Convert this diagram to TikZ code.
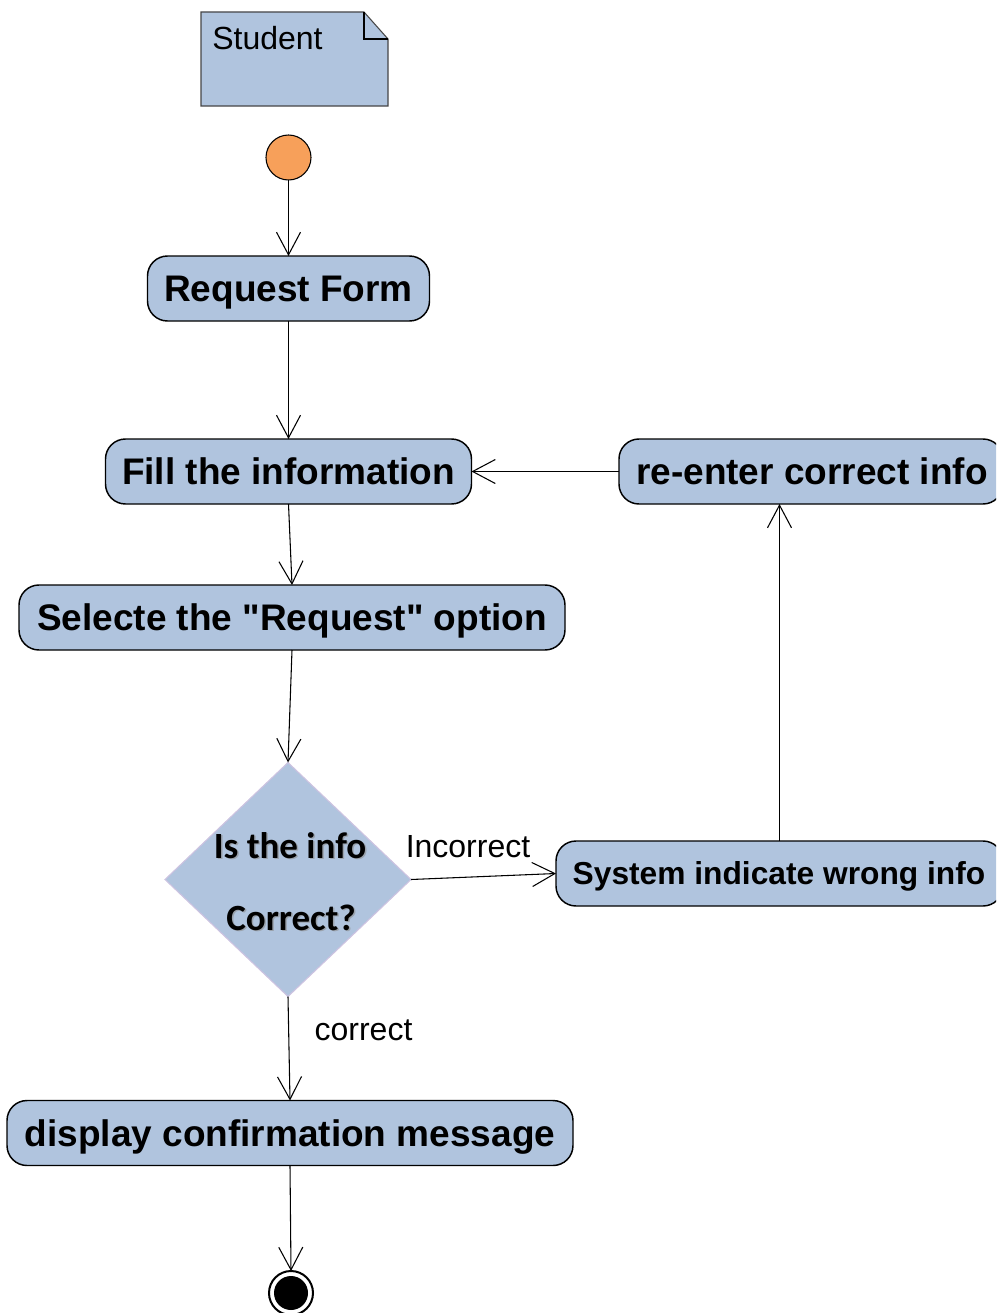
\documentclass[tikz,border=0pt]{standalone}
\usepackage{fontspec}
\setmainfont{Liberation Sans}
\newfontfamily\calfont{Carlito}
\usetikzlibrary{arrows.meta,shapes.geometric}
\definecolor{boxblue}{RGB}{176,196,222}
\definecolor{startorange}{RGB}{247,160,90}
\definecolor{diamondline}{RGB}{205,195,225}
\definecolor{notegray}{RGB}{70,70,70}
\tikzset{
  act/.style={draw=black, line width=1.1pt, fill=boxblue, rounded corners=15pt,
    inner sep=0pt, outer sep=0pt, minimum height=48.75pt,
    text height=20pt, text depth=0pt,
    font=\fontsize{27.75}{33}\selectfont\bfseries},
  acttext/.style={inner sep=0pt, text depth=0pt},
  flow/.style={line width=0.8pt, -{Straight Barb[length=17pt,width=18pt]}},
  lbl/.style={font=\fontsize{24}{28}\selectfont, inner sep=0pt},
  dectext/.style={font=\calfont\bfseries\fontsize{27.75}{33}\selectfont, inner sep=0pt, anchor=base},
}
\begin{document}
\begin{tikzpicture}[x=0.75pt,y=-0.75pt]
\useasboundingbox (0,0) rectangle (996,1313);
\clip (0,0) rectangle (996,1313);

% swimlane note
\draw[notegray, line width=0.8pt, fill=boxblue]
  (201,12) -- (364,12) -- (388,39) -- (388,106) -- (201,106) -- cycle;
\draw[black, line width=0.8pt] (364,12) -- (364,39) -- (388,39);
\node[lbl, anchor=base west] (student) at (212,50) {Student};

% start and end
\node[circle, draw=black, line width=0.8pt, fill=startorange, minimum size=33.75pt,
  inner sep=0pt, outer sep=0pt] (start) at (288.5,157.5) {};
\node[circle, draw=black, line width=1.5pt, fill=white, minimum size=33pt,
  inner sep=0pt, outer sep=0pt] (stop) at (291,1293) {};
\node[circle, fill=black, minimum size=25.5pt, inner sep=0pt] (stopdot) at (stop) {};

% activities
\node[act, minimum width=211.5pt] (req) at (288.5,288.5) {Request Form};
\node[act, minimum width=274.5pt] (fill) at (288.5,471.5) {Fill the information};
\node[act, minimum width=288pt] (reenter) at (811,471.5) {};
\node[acttext, text height=20pt, font=\fontsize{27.75}{33}\selectfont\bfseries] (reentertext) at (812,471.5) {re-enter correct info};
\node[act, minimum width=409.5pt] (sel) at (292,617.5) {Selecte the \textquotedbl Request\textquotedbl{} option};
\node[act, minimum width=335.25pt] (sys) at (779.5,873.5) {};
\node[acttext, text height=17pt, font=\fontsize{23.8}{28}\selectfont\bfseries] (systext) at (779,873.5) {System indicate wrong info};
\node[act, minimum width=424.5pt] (disp) at (290,1133) {display confirmation message};

% decision
\node[diamond, draw=diamondline, line width=0.8pt, fill=boxblue, minimum width=184.5pt,
  minimum height=175.5pt, inner sep=0pt, outer sep=0pt] (dec) at (288,879.5) {};
\node[dectext, text=black!45, opacity=0.6] (qshadowa) at (291.5,859.5) {Is the info};
\node[dectext, text=black!45, opacity=0.6] (qshadowb) at (292.5,931.5) {Correct?};
\node[dectext] (qa) at (290,858) {Is the info};
\node[dectext] (qb) at (291,930) {Correct?};

% flows
\draw[flow] (start) -- (req);
\draw[flow] (req) -- (fill);
\draw[flow] (fill.south) -- (sel.north);
\draw[flow] (sel.south) -- (dec.north);
\draw[flow] (dec.east) -- (sys.west);
\draw[flow] (sys.north) -- (sys.north |- reenter.south);
\draw[flow] (reenter.west) -- (fill.east);
\draw[flow] (dec.south) -- (disp.north);
\draw[flow] (disp.south) -- (stop.north);

% guards
\node[lbl] (incorrect) at (468,847) {Incorrect};
\node[lbl] (correct) at (363.5,1030) {correct};
\end{tikzpicture}
\end{document}
